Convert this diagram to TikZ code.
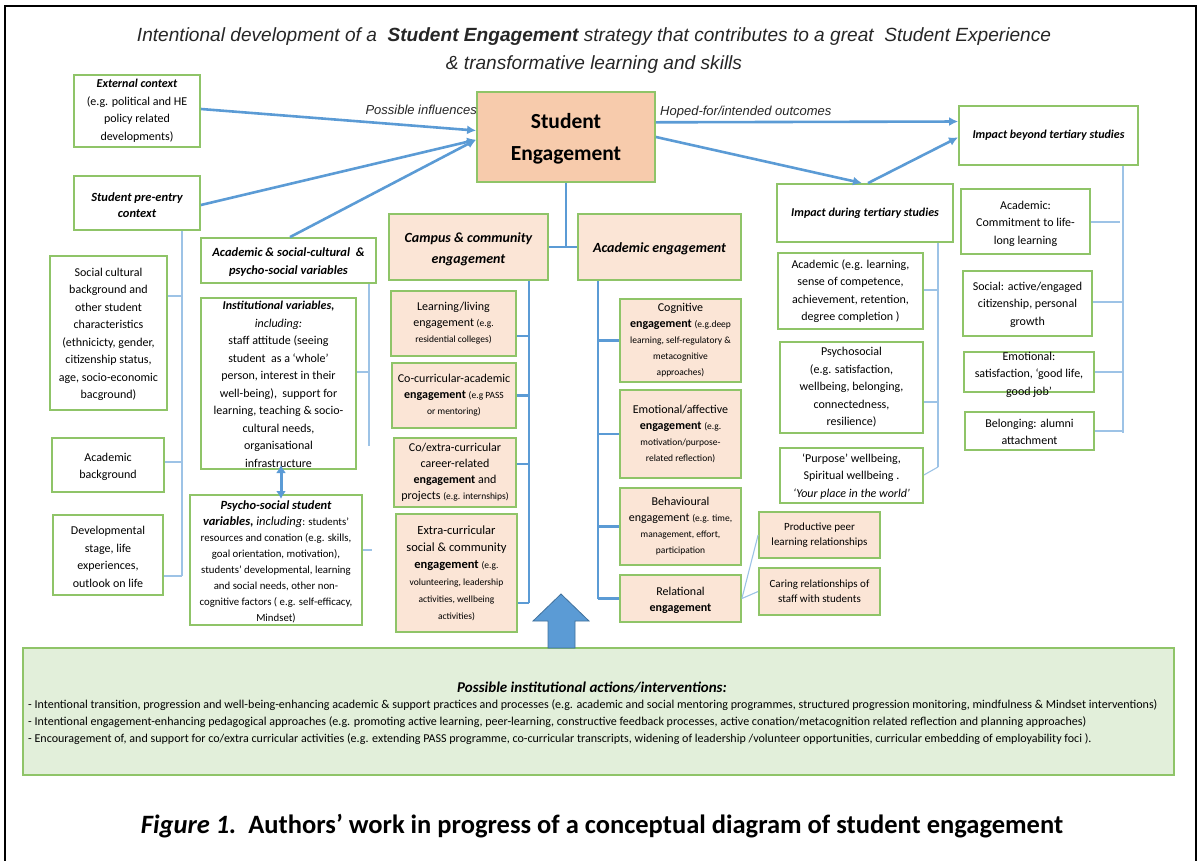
\documentclass[tikz,border=0pt]{standalone}
\usepackage{fontspec}
\setmainfont{Carlito}
\newfontfamily\arialf{Liberation Sans}
\usetikzlibrary{arrows.meta,calc}
\definecolor{gborder}{RGB}{143,196,104}
\definecolor{sefill}{RGB}{247,203,172}
\definecolor{pfill}{RGB}{251,229,214}
\definecolor{gfill}{RGB}{226,239,218}
\definecolor{bline}{RGB}{91,155,213}
\definecolor{tline}{RGB}{157,195,230}
\definecolor{bdark}{RGB}{65,113,156}
\newcommand\sm{\fontsize{9.5}{14}\selectfont}
\newcommand\mybox[8][]{%
  \node[#7, minimum width=#5pt, minimum height=#6pt] (#2) at (#3,#4) {};
  \node[txt,#1] at (#2.center) {#8};}
\begin{document}
\begin{tikzpicture}[x=1pt,y=-1pt,
  gbox/.style={draw=gborder, line width=1.8pt, fill=white, inner sep=0},
  pbox/.style={gbox, fill=pfill},
  sebox/.style={gbox, fill=sefill},
  txt/.style={align=center, inner sep=0, font=\fontsize{12}{17.5}\selectfont},
  etxt/.style={align=center, inner sep=0, font=\fontsize{12}{16}\selectfont},
  bconn/.style={draw=bline, line width=2.6pt},
  tconn/.style={draw=tline, line width=1.1pt},
  barrow/.style={bconn, -{Latex[length=9pt,width=9pt]}},
  dbarrow/.style={bconn, line width=3pt, {Latex[length=8pt,width=10pt]}-{Latex[length=8pt,width=10pt]}},
  lbl/.style={font=\arialf\itshape\fontsize{13}{15}\selectfont, inner sep=0, text=black!85}
]
\useasboundingbox (0,0) rectangle (1199,861);
\draw[line width=1.6pt] (5,6) rectangle (1196,900);

% title
\node[font=\arialf\itshape\fontsize{19.1}{28}\selectfont, align=center, text=black!85, inner sep=0] (title) at (594,51)
 {Intentional development of a\ \ \textbf{Student Engagement} strategy that contributes to a great\ \ Student Experience\\\& transformative learning and skills};

% central
\mybox[font=\bfseries\fontsize{21.5}{32}\selectfont, yshift=-2pt]{se}{566}{137}{178}{90}{sebox}{Student\\Engagement}
\mybox[font=\bfseries\itshape\fontsize{14}{21}\selectfont, yshift=-2.5pt]{camp}{468.5}{247}{159}{66}{pbox}{Campus \& community\\engagement}
\mybox[font=\bfseries\itshape\fontsize{14}{21}\selectfont, yshift=-2pt]{acad}{659.5}{247}{163}{66}{pbox}{Academic engagement}

% left side
\mybox{ext}{137}{111}{126}{72}{gbox}{\textbf{\textit{External context}}\\(e.g. political and HE\\policy related\\developments)}
\mybox[font=\bfseries\itshape\fontsize{12.5}{16}\selectfont, yshift=-2pt]{pre}{137}{203}{126}{54}{gbox}{Student pre-entry\\context}
\mybox[font=\bfseries\itshape\fontsize{12.5}{18}\selectfont, yshift=-1.5pt]{asv}{288.5}{260.5}{175}{45}{gbox}{Academic \& social-cultural\ \ \&\\psycho-social variables}
\mybox[yshift=-1pt]{inst}{278.5}{383.5}{155}{171}{gbox}{\textbf{\textit{Institutional variables,}}\\\textit{including:}\\staff attitude (seeing\\student\ \ as a ‘whole’\\person, interest in their\\well-being),\ \ support for\\learning, teaching \& socio-\\cultural needs,\\organisational\\infrastructure}
\mybox[font=\fontsize{10.8}{16}\selectfont, yshift=-2pt]{psy}{276}{560}{172}{130}{gbox}{{\fontsize{12.5}{16}\selectfont\bfseries\itshape Psycho-social student}\\{\fontsize{12.5}{16}\selectfont\textbf{\textit{variables,}} \textit{including}}: students’\\resources and conation (e.g. skills,\\goal orientation, motivation),\\students’ developmental, learning\\and social needs, other non-\\cognitive factors ( e.g. self-efficacy,\\Mindset)}
\mybox[yshift=-1.5pt]{soc}{108.5}{333}{117}{154}{gbox}{Social cultural\\background and\\other student\\characteristics\\(ethnicicty, gender,\\citizenship status,\\age, socio-economic\\bacground)}
\mybox[yshift=-2pt]{acb}{108}{465}{112}{54}{gbox}{Academic\\background}
\mybox[yshift=-2pt]{dev}{108}{555}{110}{80}{gbox}{Developmental\\stage, life\\experiences,\\outlook on life}

% campus sub boxes
\mybox[etxt]{ll}{453.5}{323.5}{125}{65}{pbox}{Learning/living\\engagement {\sm (e.g.}\\{\sm residential colleges)}}
\mybox[etxt]{cca}{454}{395.5}{124}{65}{pbox}{Co-curricular-academic\\\textbf{engagement} {\sm (e.g PASS}\\{\sm or mentoring)}}
\mybox[etxt]{cex}{455}{472.5}{122}{69}{pbox}{Co/extra-curricular\\career-related\\\textbf{engagement} and\\projects {\sm (e.g. internships)}}
\mybox[etxt, font=\fontsize{12.5}{17}\selectfont]{exc}{456.5}{573}{121}{118}{pbox}{Extra-curricular\\social \& community\\\textbf{engagement} {\sm (e.g.}\\{\sm volunteering, leadership}\\{\sm activities, wellbeing}\\{\sm activities)}}

% academic sub boxes
\mybox[etxt]{cog}{680.5}{340.5}{121}{83}{pbox}{Cognitive\\\textbf{engagement} {\sm (e.g.deep}\\{\sm learning, self-regulatory \&}\\{\sm metacognitive}\\{\sm approaches)}}
\mybox[etxt]{emo}{680.5}{434}{121}{88}{pbox}{Emotional/affective\\\textbf{engagement} {\sm (e.g.}\\{\sm motivation/purpose-}\\{\sm related reflection)}}
\mybox[etxt]{beh}{680.5}{526.5}{121}{77}{pbox}{Behavioural\\engagement {\sm (e.g. time,}\\{\sm management, effort,}\\{\sm participation}}
\mybox[etxt, yshift=-2pt]{rel}{680.5}{598.5}{121}{47}{pbox}{Relational\\\textbf{engagement}}
\mybox[etxt, font=\fontsize{11}{15}\selectfont]{peer}{819.5}{535}{121}{46}{pbox}{Productive peer\\learning relationships}
\mybox[etxt, font=\fontsize{11}{15}\selectfont]{car}{819.5}{591.5}{121}{47}{pbox}{Caring relationships of\\staff with students}

% right side
\mybox[font=\bfseries\itshape\fontsize{12}{16}\selectfont]{ib}{1048.5}{135.5}{179}{59}{gbox}{Impact beyond tertiary studies}
\mybox[font=\bfseries\itshape\fontsize{12}{16}\selectfont]{id}{865}{213}{176}{58}{gbox}{Impact during tertiary studies}
\mybox{ra1}{850.5}{291}{145}{76}{gbox}{Academic (e.g. learning,\\sense of competence,\\achievement, retention,\\degree completion )}
\mybox{ra2}{851.5}{387.5}{143}{91}{gbox}{Psychosocial\\(e.g. satisfaction,\\wellbeing, belonging,\\connectedness,\\resilience)}
\mybox[yshift=-1pt]{ra3}{851.5}{475.5}{143}{55}{gbox}{‘Purpose’ wellbeing,\\Spiritual wellbeing .\\\textit{‘Your place in the world’}}
\mybox[yshift=-2pt]{rb1}{1025.5}{221.5}{129}{65}{gbox}{Academic:\\Commitment to life-\\long learning}
\mybox[yshift=-1pt]{rb2}{1027.5}{303.5}{129}{65}{gbox}{Social: active/engaged\\citizenship, personal\\growth}
\mybox[yshift=-2.5pt]{rb3}{1029}{372}{130}{40}{gbox}{Emotional:\\satisfaction, ‘good life,\\good job’}
\mybox[yshift=-1pt]{rb4}{1029.5}{431}{129}{38}{gbox}{Belonging: alumni\\attachment}

% labels
\node[lbl, anchor=east] (pinf) at (477,110) {Possible influences};
\node[lbl, anchor=west] (hope) at (660,112) {Hoped-for/intended outcomes};

% arrows into SE
\coordinate (sein1) at ($(se.north west)!0.43!(se.south west)$);
\coordinate (sein2) at ($(se.north west)!0.53!(se.south west)$);
\draw[barrow] (ext.east |- 0,109) -- (sein1);
\draw[barrow] (pre.east |- 0,205) -- (sein2);
\draw[barrow] (asv.north -| 290,0) -- (sein2);

% arrows out of SE
\coordinate (seout1) at ($(se.north east)!0.34!(se.south east)$);
\coordinate (seout2) at ($(se.north east)!0.50!(se.south east)$);
\coordinate (ibin1) at ($(ib.north west)!0.27!(ib.south west)$);
\coordinate (ibin2) at ($(ib.north west)!0.53!(ib.south west)$);
\draw[barrow] (seout1) -- (ibin1);
\draw[barrow] (seout2) -- ($(id.north)+(-3,0)$);
\draw[barrow] ($(id.north)+(3,0)$) -- (ibin2);

% double arrow between institutional and psycho-social variables
\coordinate (dtopA) at (281,465);
\coordinate (dbotA) at (281,499);
\draw[dbarrow] (dtopA) -- (dbotA);

% SE to engagement
\coordinate (sejoin) at (se.south |- camp.east);
\draw[bconn] (se.south) -- (sejoin);
\draw[bconn] (camp.east) -- (acad.west);

% campus trunk
\coordinate (ctop) at (camp.south -| 529,0);
\coordinate (cbot) at (529,603);
\draw[bconn] (ctop) -- (cbot);
\draw[bconn] (ll.east |- 0,336) -- (529,336);
\draw[bconn] (cca.east) -- (cca.east -| cbot);
\draw[bconn] (cex.east |- 0,464) -- (529,464);
\draw[bconn] (exc.east |- cbot) -- (cbot);

% academic trunk
\coordinate (atop) at (acad.south -| 598,0);
\coordinate (abot) at (598,598.5);
\draw[bconn] (atop) -- (abot);
\draw[bconn] (cog.west) -- (cog.west -| abot);
\draw[bconn] (emo.west) -- (emo.west -| abot);
\draw[bconn] (beh.west) -- (beh.west -| abot);
\draw[bconn] (rel.west) -- (abot);

% thin connectors left
\coordinate (ptop) at (pre.south -| 182,0);
\coordinate (pbot) at (182,576);
\draw[tconn] (ptop) -- (pbot);
\draw[tconn] (soc.east |- 0,296) -- (182,296);
\draw[tconn] (acb.east |- 0,462) -- (182,462);
\draw[tconn] (dev.east |- pbot) -- (pbot);

\coordinate (vtop) at (asv.south -| 369,0);
\coordinate (vbot) at (369,446);
\draw[tconn] (vtop) -- (vbot);
\draw[tconn] (inst.east |- 0,372) -- (369,372);
\draw[tconn] (psy.east |- 0,550) -- (372,550);

% thin connectors right
\coordinate (dtop) at (id.south -| 938,0);
\coordinate (dbot) at (938,467);
\draw[tconn] (dtop) -- (dbot);
\draw[tconn] (ra1.east |- 0,290) -- (938,290);
\draw[tconn] (ra2.east |- 0,402) -- (938,402);
\draw[tconn] (ra3.east |- 0,475) -- (dbot);

\coordinate (btop) at (ib.south -| 1123,0);
\coordinate (bbot) at (1123,433);
\draw[tconn] (btop) -- (bbot);
\draw[tconn] (rb1.east |- 0,222) -- (1120,222);
\draw[tconn] (rb2.east |- 0,302) -- (1123,302);
\draw[tconn] (rb3.east) -- (rb3.east -| bbot);
\draw[tconn] (rb4.east) -- (rb4.east -| bbot);

\draw[tconn] (rel.east) -- (peer.west);
\draw[tconn] (rel.east) -- (car.west);

% bottom box
\node[draw=gborder, fill=gfill, line width=1.5pt, minimum width=1151pt, minimum height=127pt, inner sep=0] (green) at (598.5,711.5) {};
\node[font=\bfseries\itshape\fontsize{15}{17}\selectfont, inner sep=0] (gtitle) at (592,688) {Possible institutional actions/interventions:};
\node[anchor=west, align=left, font=\fontsize{12.05}{17}\selectfont, inner sep=0] (gtext) at (28,722)
 {- Intentional transition, progression and well-being-enhancing academic \& support practices and processes (e.g. academic and social mentoring programmes, structured progression monitoring, mindfulness \& Mindset interventions)\\
  - Intentional engagement-enhancing pedagogical approaches (e.g. promoting active learning, peer-learning, constructive feedback processes, active conation/metacognition related reflection and planning approaches)\\
  - Encouragement of, and support for co/extra curricular activities (e.g. extending PASS programme, co-curricular transcripts, widening of leadership /volunteer opportunities, curricular embedding of employability foci ).};

% big up arrow
\draw[fill=bline, draw=bdark, line width=0.8pt] (548,648) -- (548,621) -- (533,621) -- (561,594) -- (589,621) -- (575,621) -- (575,648) -- cycle;

% caption
\node[font=\bfseries\fontsize{26.5}{30}\selectfont, inner sep=0] (cap) at (602,826) {\textit{Figure 1.}\ \ Authors’ work in progress of a conceptual diagram of student engagement};
\end{tikzpicture}
\end{document}
